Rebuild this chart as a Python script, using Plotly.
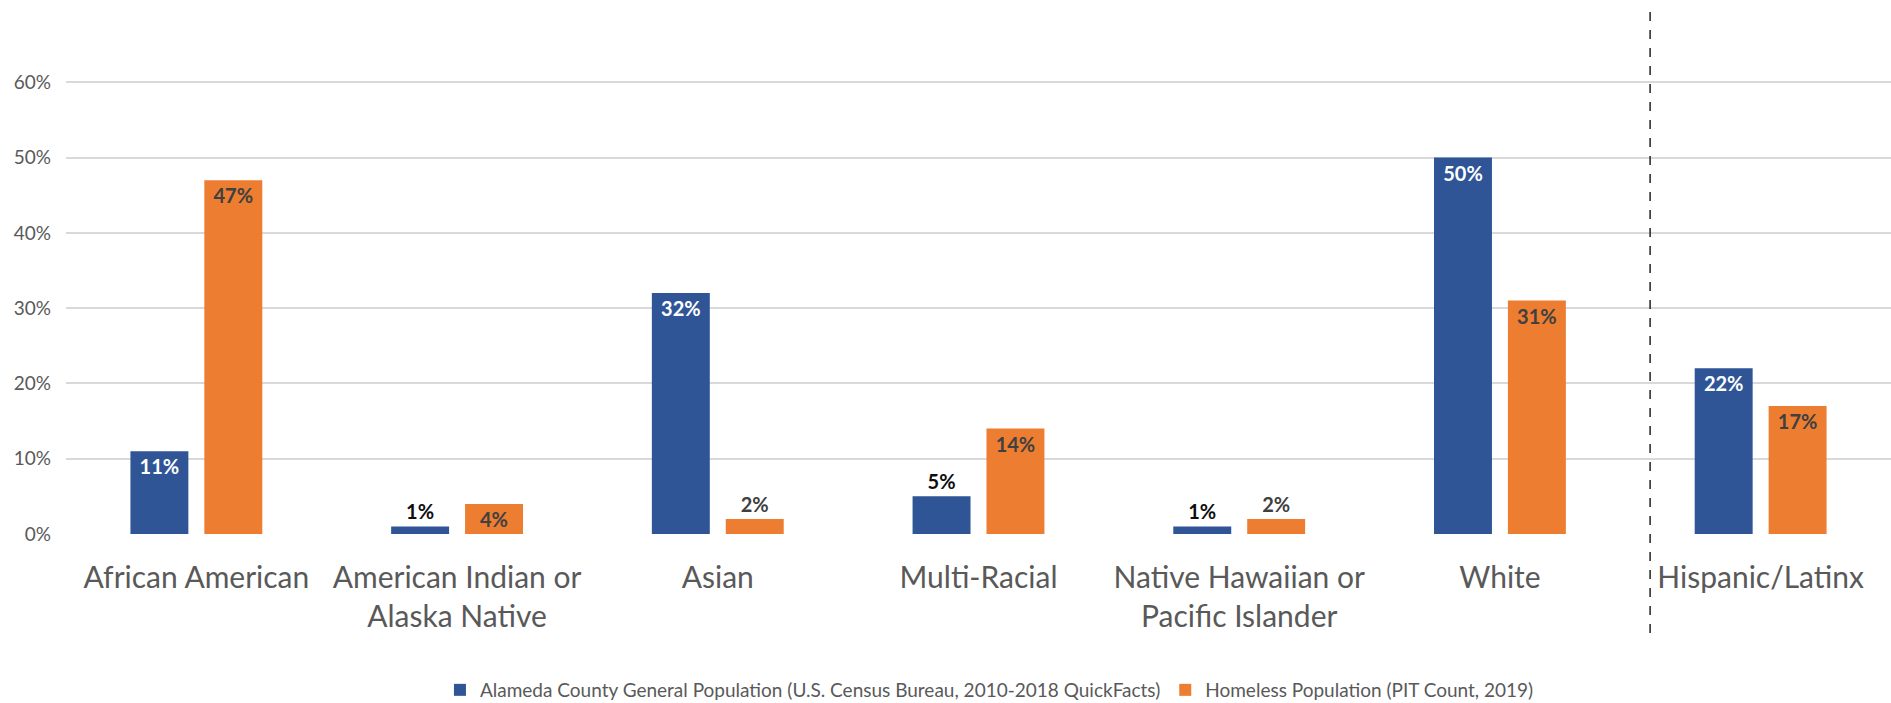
import plotly.graph_objects as go

categories = [
    "African American",
    "American Indian or<br>Alaska Native",
    "Asian",
    "Multi-Racial",
    "Native Hawaiian or<br>Pacific Islander",
    "White",
    "Hispanic/Latinx",
]
general_pop = [0.11, 0.01, 0.32, 0.05, 0.01, 0.50, 0.22]
homeless_pop = [0.47, 0.04, 0.02, 0.14, 0.02, 0.31, 0.17]
series_names = [
    "Alameda County General Population (U.S. Census Bureau, 2010-2018 QuickFacts)",
    "Homeless Population (PIT Count, 2019)",
]
y_ticks = [0, 0.1, 0.2, 0.3, 0.4, 0.5, 0.6]

BLUE = "#2F5597"
ORANGE = "#ED7D31"
FONT = "Lato"

blue_pos = ["inside" if v >= 0.1 else "outside" for v in general_pop]
orange_pos = ["inside" if v >= 0.04 else "outside" for v in homeless_pop]

fig = go.Figure()
fig.add_trace(go.Bar(
    x=categories, y=general_pop, name=series_names[0],
    marker=dict(color=BLUE, line=dict(width=0)),
    texttemplate="%{y:.0%}", textposition=blue_pos,
    insidetextanchor="end", constraintext="none",
    insidetextfont=dict(color="white", size=20, family=FONT, weight="bold"),
    outsidetextfont=dict(color="#0d0d0d", size=20, family=FONT, weight="bold"),
    cliponaxis=False,
))
fig.add_trace(go.Bar(
    x=categories, y=homeless_pop, name=series_names[1],
    marker=dict(color=ORANGE, line=dict(width=0)),
    texttemplate="%{y:.0%}", textposition=orange_pos,
    insidetextanchor="end", constraintext="none",
    insidetextfont=dict(color="#404040", size=20, family=FONT, weight="bold"),
    outsidetextfont=dict(color="#404040", size=20, family=FONT, weight="bold"),
    cliponaxis=False,
))

fig.add_shape(type="line", xref="paper", yref="paper",
              x0=0.868, x1=0.868, y0=-0.188, y1=1.0,
              line=dict(color="#222222", width=1.5, dash="dash"))

fig.update_layout(
    width=1891, height=703,
    margin=dict(l=66, r=0, t=7, b=169, autoexpand=False),
    paper_bgcolor="white", plot_bgcolor="white",
    barmode="group", bargap=0.433, bargroupgap=0.216,
    font=dict(family=FONT, color="#595959"),
    showlegend=True,
    legend=dict(orientation="h", x=0.506, xanchor="center", y=-0.296, yanchor="middle",
                font=dict(size=19, color="#595959", family=FONT),
                itemwidth=30, tracegroupgap=0),
    xaxis=dict(showgrid=False, showline=False, zeroline=False, automargin=False,
               tickfont=dict(size=30, color="#595959", family=FONT),
               ticks="", ticklabelstandoff=23),
    yaxis=dict(range=[0, 0.7], tickvals=y_ticks, tickformat=".0%", automargin=False,
               showgrid=True, gridcolor="#D9D9D9", gridwidth=1.5,
               zeroline=False, showline=False,
               tickfont=dict(size=19, color="#595959", family=FONT),
               ticklabelstandoff=14),
)

fig.write_html("out.html")
